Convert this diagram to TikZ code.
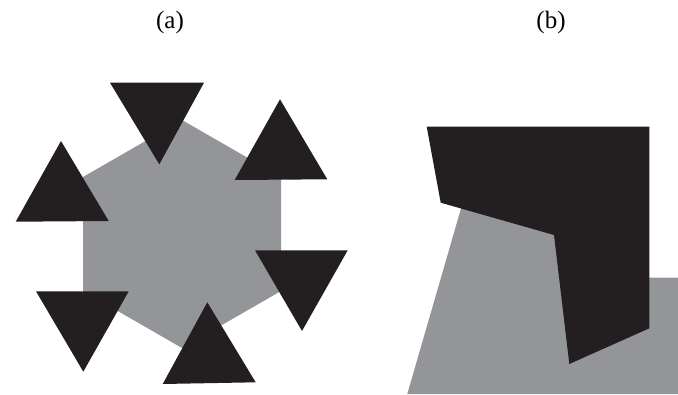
\documentclass[tikz,border=0pt]{standalone}
\usepackage{fontspec}
\setmainfont{Liberation Serif}
\definecolor{shapegray}{HTML}{939598}
\definecolor{shapeblack}{HTML}{231F20}
\tikzset{
  graypart/.style={fill=shapegray, draw=none},
  blackpart/.style={fill=shapeblack, draw=none},
  panellabel/.style={font=\fontsize{25}{30}\selectfont, inner sep=0pt}
}
\begin{document}
\begin{tikzpicture}[x=1pt,y=-1pt]
\useasboundingbox (0,0) rectangle (678,394);
% labels
\node[panellabel] (la) at (170,22) {(a)};
\node[panellabel] (lb) at (551,22) {(b)};
% (a) hexagon
\fill[graypart] (182,120) -- (281,177) -- (281,291) -- (182,348) -- (83,291) -- (83,177) -- cycle;
% (a) triangles
\fill[blackpart] (110,82.7) -- (204,82.7) -- (159.3,164.3) -- cycle;
\fill[blackpart] (280,99.3) -- (327.3,179.3) -- (234.7,180) -- cycle;
\fill[blackpart] (61,141) -- (108.7,221) -- (15.7,221.7) -- cycle;
\fill[blackpart] (255,250.3) -- (347.7,250.3) -- (302,331) -- cycle;
\fill[blackpart] (36,291.3) -- (128.7,291.3) -- (83.3,371.7) -- cycle;
\fill[blackpart] (207.3,302.3) -- (255.7,382.3) -- (162.7,384) -- cycle;
% (b)
\fill[graypart] (407.3,394) -- (462,205) -- (555,235) -- (649.3,277.7) -- (678,277.7) -- (678,394) -- cycle;
\fill[blackpart] (426.7,126.7) -- (649.3,126.7) -- (649.3,328.3) -- (569.3,364) -- (554,235) -- (440.7,202.7) -- cycle;
\end{tikzpicture}
\end{document}
